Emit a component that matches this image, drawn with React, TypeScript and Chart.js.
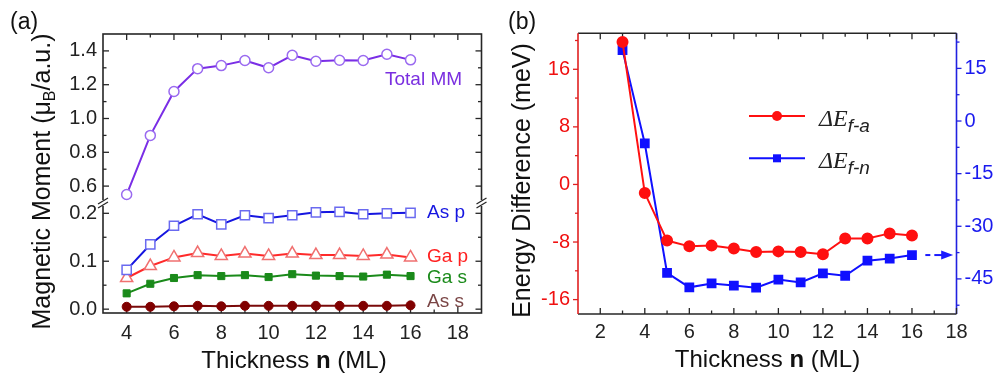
import React, { useEffect, useRef } from "react";
import { Chart, registerables } from "chart.js";

Chart.register(...registerables);

const SANS = "'Liberation Sans', Arial, Helvetica, sans-serif";
const SERIF = "'Liberation Serif', 'Times New Roman', serif";
const AXIS = "#262626";

// ---------- Panel (a) data ----------
const thicknessA = [4, 5, 6, 7, 8, 9, 10, 11, 12, 13, 14, 15, 16];
const totalMM = [0.55, 0.9, 1.16, 1.295, 1.313, 1.343, 1.3, 1.374, 1.339, 1.345, 1.343, 1.38, 1.347];
const asP = [0.082, 0.135, 0.174, 0.198, 0.177, 0.196, 0.19, 0.196, 0.202, 0.203, 0.198, 0.2, 0.201];
const gaP = [0.065, 0.09, 0.108, 0.117, 0.111, 0.116, 0.111, 0.116, 0.113, 0.113, 0.111, 0.114, 0.108];
const gaS = [0.033, 0.053, 0.065, 0.071, 0.069, 0.071, 0.067, 0.073, 0.07, 0.069, 0.068, 0.072, 0.069];
const asS = [0.005, 0.005, 0.006, 0.007, 0.006, 0.007, 0.007, 0.007, 0.007, 0.007, 0.007, 0.007, 0.008];

const xMajorA = [4, 6, 8, 10, 12, 14, 16, 18];
const xMinorA = [5, 7, 9, 11, 13, 15, 17];
const yUpperMajor = [0.6, 0.8, 1.0, 1.2, 1.4];
const yUpperMinor = [0.7, 0.9, 1.1, 1.3];
const yLowerMajor = [0.0, 0.1, 0.2];
const yLowerMinor = [0.05, 0.15];

// ---------- Panel (b) data ----------
const thicknessB = [3, 4, 5, 6, 7, 8, 9, 10, 11, 12, 13, 14, 15, 16];
const dEfa = [19.8, -1.2, -7.8, -8.6, -8.5, -8.9, -9.4, -9.3, -9.4, -9.7, -7.5, -7.5, -6.8, -7.1];
const dEfn = [20.2, -6.4, -43.3, -47.4, -46.3, -46.9, -47.5, -45.2, -46.0, -43.4, -44.1, -39.8, -39.2, -38.2];

const xMajorB = [2, 4, 6, 8, 10, 12, 14, 16, 18];
const xMinorB = [3, 5, 7, 9, 11, 13, 15, 17];
const yLeftMajorB = [-16, -8, 0, 8, 16];
const yLeftMinorB = [-12, -4, 4, 12, 20];
const yRightMajorB = [-45, -30, -15, 0, 15];
const yRightMinorB = [-52.5, -37.5, -22.5, -7.5, 7.5, 22.5];
const arrowFrom = 16.6;
const arrowTo = 17.85;

const pts = (xs: number[], ys: number[]) => xs.map((x, i) => ({ x, y: ys[i] }));

type Run = { text: string; font: string; dy?: number };

function drawRuns(ctx: CanvasRenderingContext2D, runs: Run[], x: number, y: number, align: "left" | "center") {
  let total = 0;
  const widths = runs.map((r) => {
    ctx.font = r.font;
    const w = ctx.measureText(r.text).width;
    total += w;
    return w;
  });
  let cx = align === "center" ? x - total / 2 : x;
  ctx.textAlign = "left";
  ctx.textBaseline = "alphabetic";
  runs.forEach((r, i) => {
    ctx.font = r.font;
    ctx.fillText(r.text, cx, y + (r.dy || 0));
    cx += widths[i];
  });
}

function seg(ctx: CanvasRenderingContext2D, x1: number, y1: number, x2: number, y2: number) {
  ctx.beginPath();
  ctx.moveTo(x1, y1);
  ctx.lineTo(x2, y2);
  ctx.stroke();
}

const tickFont = { family: SANS, size: 20 };
const setTicks = (vals: number[]) => (s: any) => {
  s.ticks = vals.map((v) => ({ value: v }));
};

// ---------- Panel (a) plugin ----------
const panelAPlugin = {
  id: "panelA",
  beforeDatasetsDraw(chart: any) {
    const { ctx, chartArea } = chart;
    const { left, right, top, bottom } = chartArea;
    const sx = chart.scales.x;
    const yU = chart.scales.yU;
    const yL = chart.scales.yL;
    ctx.save();
    ctx.strokeStyle = AXIS;
    ctx.lineWidth = 1.6;
    ctx.strokeRect(left, top, right - left, bottom - top);
    ctx.lineWidth = 1.3;
    xMajorA.forEach((v) => {
      const p = sx.getPixelForValue(v);
      seg(ctx, p, bottom, p, bottom - 6);
      seg(ctx, p, top, p, top + 6);
    });
    xMinorA.forEach((v) => {
      const p = sx.getPixelForValue(v);
      seg(ctx, p, bottom, p, bottom - 3.5);
      seg(ctx, p, top, p, top + 3.5);
    });
    const yt = (sc: any, vals: number[], len: number) =>
      vals.forEach((v) => {
        const p = sc.getPixelForValue(v);
        seg(ctx, left, p, left + len, p);
        seg(ctx, right, p, right - len, p);
      });
    yt(yU, yUpperMajor, 6);
    yt(yU, yUpperMinor, 3.5);
    yt(yL, yLowerMajor, 6);
    yt(yL, yLowerMinor, 3.5);
    // axis break
    const by = yU.top < yL.top ? yU.bottom : yL.bottom;
    [left, right].forEach((x) => {
      ctx.fillStyle = "#fff";
      ctx.fillRect(x - 2, by - 3, 4, 6);
      ctx.strokeStyle = AXIS;
      ctx.lineWidth = 1.3;
      seg(ctx, x - 5, by + 1, x + 5, by - 5);
      seg(ctx, x - 5, by + 5, x + 5, by - 1);
    });
    ctx.restore();
  },
  afterDraw(chart: any) {
    const { ctx } = chart;
    ctx.save();
    ctx.fillStyle = "#111";
    drawRuns(ctx, [{ text: "(a)", font: `23px ${SANS}` }], 10, 29, "left");
    // y title
    ctx.save();
    ctx.translate(50, 181.5);
    ctx.rotate(-Math.PI / 2);
    drawRuns(
      ctx,
      [
        { text: "Magnetic Moment (\u03bc", font: `25px ${SANS}` },
        { text: "B", font: `16px ${SANS}`, dy: 5 },
        { text: "/a.u.)", font: `25px ${SANS}` },
      ],
      0,
      0,
      "center"
    );
    ctx.restore();
    // x title
    drawRuns(
      ctx,
      [
        { text: "Thickness ", font: `24px ${SANS}` },
        { text: "n", font: `bold 24px ${SANS}` },
        { text: " (ML)", font: `24px ${SANS}` },
      ],
      294,
      368,
      "center"
    );
    // series labels
    const lab = (t: string, c: string, x: number, y: number) => {
      ctx.fillStyle = c;
      drawRuns(ctx, [{ text: t, font: `19px ${SANS}` }], x, y, "left");
    };
    lab("Total MM", "#7a2fe0", 385, 85);
    lab("As p", "#1515e0", 427, 217.5);
    lab("Ga p", "#ff2020", 427, 261.5);
    lab("Ga s", "#1a8a1a", 427, 283);
    lab("As s", "#7a4545", 427, 306.5);
    ctx.restore();
  },
};

// ---------- Panel (b) plugin ----------
const panelBPlugin = {
  id: "panelB",
  beforeDatasetsDraw(chart: any) {
    const { ctx, chartArea } = chart;
    const { left, right, top, bottom } = chartArea;
    const sx = chart.scales.x;
    const yl = chart.scales.y;
    const yr = chart.scales.y2;
    ctx.save();
    ctx.lineWidth = 1.6;
    ctx.strokeStyle = AXIS;
    seg(ctx, left, top, right, top);
    seg(ctx, left, bottom, right, bottom);
    ctx.strokeStyle = "#e02020";
    seg(ctx, left, top, left, bottom);
    ctx.strokeStyle = "#2020e0";
    seg(ctx, right, top, right, bottom);
    ctx.lineWidth = 1.3;
    ctx.strokeStyle = AXIS;
    xMajorB.forEach((v) => {
      const p = sx.getPixelForValue(v);
      seg(ctx, p, bottom, p, bottom - 6);
      seg(ctx, p, top, p, top + 6);
    });
    xMinorB.forEach((v) => {
      const p = sx.getPixelForValue(v);
      seg(ctx, p, bottom, p, bottom - 3.5);
      seg(ctx, p, top, p, top + 3.5);
    });
    ctx.strokeStyle = "#e02020";
    yLeftMajorB.forEach((v) => {
      const p = yl.getPixelForValue(v);
      seg(ctx, left, p, left - 5, p);
    });
    yLeftMinorB.forEach((v) => {
      const p = yl.getPixelForValue(v);
      seg(ctx, left, p, left - 3, p);
    });
    ctx.strokeStyle = "#2020e0";
    yRightMajorB.forEach((v) => {
      const p = yr.getPixelForValue(v);
      seg(ctx, right, p, right + 5, p);
    });
    yRightMinorB.forEach((v) => {
      const p = yr.getPixelForValue(v);
      seg(ctx, right, p, right + 3, p);
    });
    ctx.restore();
  },
  afterDraw(chart: any) {
    const { ctx } = chart;
    const sx = chart.scales.x;
    const yr = chart.scales.y2;
    ctx.save();
    // arrow
    const ay = yr.getPixelForValue(dEfn[dEfn.length - 1]);
    const x0 = sx.getPixelForValue(arrowFrom);
    const x1 = sx.getPixelForValue(arrowTo);
    ctx.strokeStyle = "#1a1aff";
    ctx.fillStyle = "#1a1aff";
    ctx.lineWidth = 2;
    seg(ctx, x0, ay, x0 + 5, ay);
    seg(ctx, x0 + 9, ay, x1 - 8, ay);
    ctx.beginPath();
    ctx.moveTo(x1, ay);
    ctx.lineTo(x1 - 12, ay - 4.5);
    ctx.lineTo(x1 - 12, ay + 4.5);
    ctx.closePath();
    ctx.fill();

    // legend
    const leg = (color: string, y: number, style: string, sub: string) => {
      ctx.strokeStyle = color;
      ctx.fillStyle = color;
      ctx.lineWidth = 2;
      seg(ctx, 259, y, 315, y);
      if (style === "circle") {
        ctx.beginPath();
        ctx.arc(287, y, 5, 0, Math.PI * 2);
        ctx.fill();
      } else {
        ctx.fillRect(283, y - 4, 8, 8);
      }
      ctx.fillStyle = "#222";
      drawRuns(
        ctx,
        [
          { text: "\u0394E", font: `italic 24px ${SERIF}` },
          { text: sub, font: `italic 19px ${SANS}`, dy: 6 },
        ],
        329,
        y + 9.5,
        "left"
      );
    };
    leg("#ff1010", 116, "circle", "f-a");
    leg("#1010ff", 158.3, "rect", "f-n");

    ctx.fillStyle = "#111";
    drawRuns(ctx, [{ text: "(b)", font: `23px ${SANS}` }], 18, 29, "left");
    ctx.save();
    ctx.translate(39.5, 180.5);
    ctx.rotate(-Math.PI / 2);
    drawRuns(ctx, [{ text: "Energy Difference (meV)", font: `25px ${SANS}` }], 0, 0, "center");
    ctx.restore();
    drawRuns(
      ctx,
      [
        { text: "Thickness ", font: `24px ${SANS}` },
        { text: "n", font: `bold 24px ${SANS}` },
        { text: " (ML)", font: `24px ${SANS}` },
      ],
      277.5,
      366.5,
      "center"
    );
    ctx.restore();
  },
};

const hiddenGrid = { display: false, drawTicks: false };
const noBorder = { display: false };

function makeConfigA(): any {
  return {
    type: "line",
    data: {
      datasets: [
        {
          data: pts(thicknessA, totalMM),
          yAxisID: "yU",
          borderColor: "#7a2ee6",
          borderWidth: 2,
          pointStyle: "circle",
          pointRadius: 5,
          pointBackgroundColor: "#fff",
          pointBorderColor: "#9a6af0",
          pointBorderWidth: 1.5,
        },
        {
          data: pts(thicknessA, asP),
          yAxisID: "yL",
          borderColor: "#1515e0",
          borderWidth: 2,
          pointStyle: "rect",
          pointRadius: 6.5,
          pointBackgroundColor: "#fff",
          pointBorderColor: "#6a6af0",
          pointBorderWidth: 1.5,
        },
        {
          data: pts(thicknessA, gaP),
          yAxisID: "yL",
          borderColor: "#ff2a2a",
          borderWidth: 2,
          pointStyle: "triangle",
          pointRadius: 7,
          pointBackgroundColor: "#fff",
          pointBorderColor: "#f07070",
          pointBorderWidth: 1.5,
        },
        {
          data: pts(thicknessA, gaS),
          yAxisID: "yL",
          borderColor: "#1a8a1a",
          borderWidth: 2,
          pointStyle: "rect",
          pointRadius: 5,
          pointBackgroundColor: "#1a8a1a",
          pointBorderColor: "#1a8a1a",
          pointBorderWidth: 1,
        },
        {
          data: pts(thicknessA, asS),
          yAxisID: "yL",
          borderColor: "#7a0a0a",
          borderWidth: 2,
          pointStyle: "circle",
          pointRadius: 4.5,
          pointBackgroundColor: "#800000",
          pointBorderColor: "#800000",
          pointBorderWidth: 1,
        },
      ],
    },
    options: {
      responsive: false,
      animation: false,
      events: [],
      layout: { padding: { top: 34, right: 8.5, left: 0, bottom: 0 } },
      plugins: { legend: { display: false }, tooltip: { enabled: false } },
      elements: { line: { tension: 0 } },
      scales: {
        x: {
          type: "linear",
          min: 3,
          max: 19,
          afterBuildTicks: setTicks(xMajorA),
          afterFit: (s: any) => {
            s.height = 65;
          },
          ticks: { font: tickFont, color: "#222", padding: 8, autoSkip: false, maxRotation: 0, callback: (v: any) => String(v) },
          grid: hiddenGrid,
          border: noBorder,
        },
        yL: {
          type: "linear",
          position: "left",
          stack: "mm",
          stackWeight: 110,
          min: -0.008,
          max: 0.2215,
          afterBuildTicks: setTicks(yLowerMajor),
          afterFit: (s: any) => {
            s.width = 103;
          },
          ticks: { font: tickFont, color: "#222", padding: 6, autoSkip: false, callback: (v: any) => Number(v).toFixed(1) },
          grid: hiddenGrid,
          border: noBorder,
        },
        yU: {
          type: "linear",
          position: "left",
          stack: "mm",
          stackWeight: 169,
          min: 0.5,
          max: 1.5,
          afterBuildTicks: setTicks(yUpperMajor),
          afterFit: (s: any) => {
            s.width = 103;
          },
          ticks: { font: tickFont, color: "#222", padding: 6, autoSkip: false, callback: (v: any) => Number(v).toFixed(1) },
          grid: hiddenGrid,
          border: noBorder,
        },
      },
    },
    plugins: [panelAPlugin],
  };
}

function makeConfigB(): any {
  return {
    type: "line",
    data: {
      datasets: [
        {
          label: "\u0394E f-a",
          data: pts(thicknessB, dEfa),
          yAxisID: "y",
          borderColor: "#ff1010",
          borderWidth: 2,
          pointStyle: "circle",
          pointRadius: 5,
          pointBackgroundColor: "#ff1010",
          pointBorderColor: "#ff1010",
        },
        {
          label: "\u0394E f-n",
          data: pts(thicknessB, dEfn),
          yAxisID: "y2",
          borderColor: "#1010ff",
          borderWidth: 2,
          pointStyle: "rect",
          pointRadius: 5.5,
          pointBackgroundColor: "#1010ff",
          pointBorderColor: "#1010ff",
        },
      ],
    },
    options: {
      responsive: false,
      animation: false,
      events: [],
      layout: { padding: { top: 33.3, right: 0, left: 0, bottom: 0 } },
      plugins: { legend: { display: false }, tooltip: { enabled: false } },
      elements: { line: { tension: 0 } },
      scales: {
        x: {
          type: "linear",
          min: 1,
          max: 18,
          afterBuildTicks: setTicks(xMajorB),
          afterFit: (s: any) => {
            s.height = 64;
          },
          ticks: { font: tickFont, color: "#222", padding: 6, autoSkip: false, maxRotation: 0, callback: (v: any) => String(v) },
          grid: hiddenGrid,
          border: noBorder,
        },
        y: {
          type: "linear",
          position: "left",
          min: -18,
          max: 21,
          afterBuildTicks: setTicks(yLeftMajorB),
          afterFit: (s: any) => {
            s.width = 88;
          },
          ticks: { font: tickFont, color: "#f01010", padding: 8, autoSkip: false, callback: (v: any) => String(v) },
          grid: hiddenGrid,
          border: noBorder,
        },
        y2: {
          type: "linear",
          position: "right",
          min: -55,
          max: 25,
          afterBuildTicks: setTicks(yRightMajorB),
          afterFit: (s: any) => {
            s.width = 39.5;
          },
          ticks: { font: tickFont, color: "#1a1aee", padding: 8, autoSkip: false, callback: (v: any) => String(v) },
          grid: hiddenGrid,
          border: noBorder,
        },
      },
    },
    plugins: [panelBPlugin],
  };
}

export default function App() {
  const refA = useRef<HTMLCanvasElement>(null);
  const refB = useRef<HTMLCanvasElement>(null);
  useEffect(() => {
    const a = new Chart(refA.current as HTMLCanvasElement, makeConfigA());
    const b = new Chart(refB.current as HTMLCanvasElement, makeConfigB());
    return () => {
      a.destroy();
      b.destroy();
    };
  }, []);
  return (
    <div style={{ position: "fixed", left: 0, top: 0, width: 996, height: 378, background: "#fff" }}>
      <canvas ref={refA} width={490} height={378} style={{ position: "absolute", left: 0, top: 0 }} />
      <canvas ref={refB} width={506} height={378} style={{ position: "absolute", left: 490, top: 0 }} />
    </div>
  );
}
